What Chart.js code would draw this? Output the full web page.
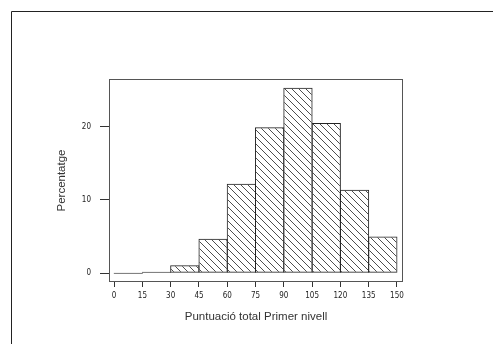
<!DOCTYPE html>
<html>
<head>
<meta charset="utf-8">
<script src="https://cdn.jsdelivr.net/npm/chart.js@4/dist/chart.umd.min.js"></script>
<style>
  body { margin: 0; background: #fff; }
  canvas { display: block; }
</style>
</head>
<body>
<canvas id="histChart" width="493" height="344"></canvas>
<script>
// bins of 15 points, percentages
var binStarts = [0, 15, 30, 45, 60, 75, 90, 105, 120, 135];
var binWidth = 15;
var percentages = [0, 0.2, 1.1, 4.7, 12.2, 19.9, 25.3, 20.5, 11.4, 5.0];
var xTicks = [0, 15, 30, 45, 60, 75, 90, 105, 120, 135, 150];
var yTicks = [0, 10, 20];

// hatch pattern  \\\\
function makeHatch() {
    var c = document.createElement("canvas");
    c.width = 7;
    c.height = 7;
    var g = c.getContext("2d");
    g.strokeStyle = "#3a3a3a";
    g.lineWidth = 0.9;
    g.beginPath();
    g.moveTo(-1, -1); g.lineTo(8, 8);
    g.moveTo(-1, 6); g.lineTo(1, 8);
    g.moveTo(6, -1); g.lineTo(8, 1);
    g.stroke();
    return g.createPattern(c, "repeat");
}

var points = [];
for (var i = 0; i < binStarts.length; i++) {
    points.push({x: binStarts[i] + binWidth / 2, y: percentages[i]});
}

var tickFont = {family: "'Liberation Sans Narrow', 'DejaVu Sans Condensed', sans-serif", size: 8};
var titleFont = {family: "'Liberation Sans', Arial, sans-serif", size: 11.5};

var framePlugin = {
    id: "frames",
    beforeDraw: function (chart) {
        var ctx = chart.ctx;
        ctx.save();
        ctx.strokeStyle = "#222";
        ctx.lineWidth = 1;
        ctx.beginPath();
        ctx.moveTo(11.5, chart.height);
        ctx.lineTo(11.5, 11.5);
        ctx.lineTo(chart.width, 11.5);
        ctx.stroke();
        ctx.restore();
    },
    afterDraw: function (chart) {
        var a = chart.chartArea;
        var ctx = chart.ctx;
        ctx.save();
        ctx.strokeStyle = "#555";
        ctx.lineWidth = 1;
        ctx.strokeRect(Math.round(a.left) + 0.5, Math.round(a.top) + 0.5,
            Math.round(a.right - a.left) - 1, Math.round(a.bottom - a.top) - 1);
        ctx.restore();
    }
};

var ctx = document.getElementById("histChart").getContext("2d");
var chart = new Chart(ctx, {
    type: "bar",
    data: {
        datasets: [{
            data: points,
            backgroundColor: makeHatch(),
            borderColor: "#222",
            borderWidth: 1,
            borderSkipped: false,
            minBarLength: 1,
            barPercentage: 1.035,  // neighbours overlap so shared edges stay 1px
            categoryPercentage: 1
        }]
    },
    options: {
        responsive: false,
        animation: false,
        layout: {padding: {top: 79, right: 90, left: 0, bottom: 0}},
        plugins: {legend: {display: false}, tooltip: {enabled: false}},
        scales: {
            x: {
                type: "linear",
                offset: false,
                min: -2.7,
                max: 153.2,
                afterBuildTicks: function (scale) {
                    scale.ticks = xTicks.map(function (v) { return {value: v}; });
                },
                afterFit: function (scale) { scale.height = 62; },
                grid: {drawOnChartArea: false, offset: false, tickLength: 5, color: "#333"},
                border: {display: false},
                ticks: {font: tickFont, color: "#222", padding: 4, maxRotation: 0, autoSkip: false},
                title: {
                    display: true,
                    text: "Puntuació total Primer nivell",
                    font: titleFont,
                    color: "#333",
                    padding: {top: 0, bottom: 20}
                }
            },
            y: {
                min: -1.2,
                max: 26.5,
                afterBuildTicks: function (scale) {
                    scale.ticks = yTicks.map(function (v) { return {value: v}; });
                },
                afterFit: function (scale) { scale.width = 109; },
                grid: {drawOnChartArea: false, tickLength: 9, color: "#333"},
                border: {display: false},
                ticks: {font: tickFont, color: "#222", padding: 9},
                title: {
                    display: true,
                    text: "Percentatge",
                    font: titleFont,
                    color: "#333",
                    padding: {top: 55, bottom: 0}
                }
            }
        }
    },
    plugins: [framePlugin]
});
</script>
</body>
</html>
